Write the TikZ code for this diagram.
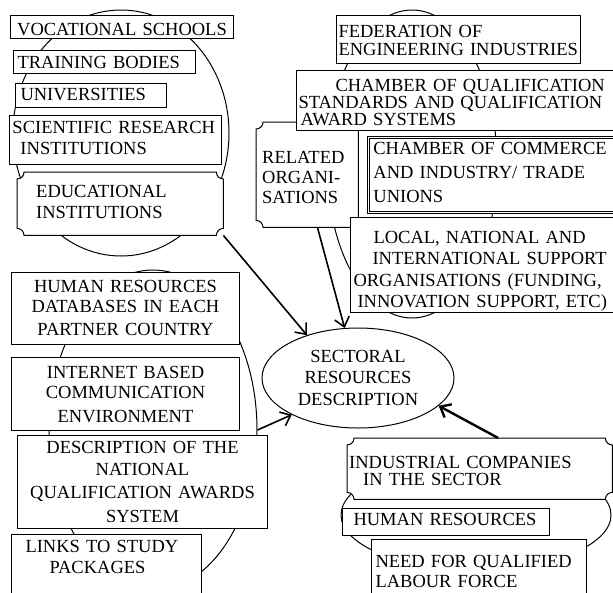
\documentclass[tikz,border=0pt]{standalone}
\usepackage{fontspec}
\setmainfont{Liberation Serif}
\usetikzlibrary{calc,arrows.meta,shapes.geometric}
\pgfdeclarelayer{back}
\pgfdeclarelayer{plaques}
\pgfsetlayers{back,plaques,main}
\hyphenpenalty=10000
\exhyphenpenalty=10000

% frame with concave (notched) corners around an existing node
\newcommand\plaqueframe[1]{%
  \begin{pgfonlayer}{plaques}
    \draw[frame, fill=white]
      ($(#1.north west)+(7,0)$) -- ($(#1.north east)+(-7,0)$)
      .. controls +(0,4) and +(-4,0) .. ($(#1.north east)+(0,7)$)
      -- ($(#1.south east)+(0,-7)$)
      .. controls +(-4,0) and +(0,-4) .. ($(#1.south east)+(-7,0)$)
      -- ($(#1.south west)+(7,0)$)
      .. controls +(0,-4) and +(4,0) .. ($(#1.south west)+(0,-7)$)
      -- ($(#1.north west)+(0,7)$)
      .. controls +(4,0) and +(0,4) .. ($(#1.north west)+(7,0)$)
      -- cycle;
  \end{pgfonlayer}}

\begin{document}
\begin{tikzpicture}[x=1pt, y=-1pt,
  frame/.style={draw, line width=1pt},
  labeltext/.style={anchor=north west, inner ysep=0pt, align=left,
    font=\fontsize{18.5}{21}\selectfont},
  textbox/.style={labeltext, frame, fill=white},
  plaquebox/.style={labeltext},
  doublebox/.style={labeltext, draw, fill=white, line width=0.8pt, double, double distance=1.8pt},
  outline/.style={draw, line width=1pt, ellipse, inner sep=0pt},
  arrow/.style={line width=1.6pt, -{Straight Barb[length=9pt,width=15pt]}},
  heavyarrow/.style={arrow, line width=2.4pt}
]
\useasboundingbox (0,0) rectangle (613,592);
\clip (0,0) rectangle (613,592);

% background and group outlines
\begin{pgfonlayer}{back}
  \fill[white] (0,0) rectangle (613,592);
  \node[outline, minimum width=216pt, minimum height=246pt] (tlgroup) at (121,133) {};
  \node[outline, minimum width=170pt, minimum height=308pt] (trgroup) at (412,164) {};
  \node[outline, minimum width=208pt, minimum height=320pt] (blgroup) at (153,430) {};
  \node[outline, minimum width=270pt, minimum height=110pt] (brgroup) at (476,515) {};
\end{pgfonlayer}

% educational institutions
\node[textbox, inner xsep=2pt, text width=219pt, align=center, text height=20pt, text depth=3pt] (voc) at (10,15) {VOCATIONAL~SCHOOLS};
\node[textbox, inner xsep=4pt, text width=174pt, text height=18pt, text depth=5pt] (train) at (13,50) {TRAINING~BODIES};
\node[textbox, inner xsep=5pt, text width=141pt, text height=17pt, text depth=7pt] (univ) at (15,83) {UNIVERSITIES};
\node[textbox, inner xsep=3pt, text width=206pt, text height=18pt, text depth=31pt] (sci) at (9,115) {SCIENTIFIC~RESEARCH\\\hspace*{8pt}INSTITUTIONS};
\node[plaquebox, inner xsep=19pt, text width=168pt, text height=25pt, text depth=38pt] (edu) at (17,172) {EDUCATIONAL\\INSTITUTIONS};
\plaqueframe{edu}

% related organisations
\node[textbox, inner xsep=2pt, text width=240pt, text height=22pt, text depth=26pt] (fed) at (336,15) {FEDERATION~OF\\[-3pt]ENGINEERING~INDUSTRIES};
\node[plaquebox, inner xsep=6pt, text width=90pt, text height=41pt, text depth=64pt] (rel) at (256,122) {RELATED\\[-1pt]ORGANI-\\[-1pt]SATIONS};
\plaqueframe{rel}
\node[textbox, inner xsep=2pt, text width=330pt, text height=21pt, text depth=39pt] (cq) at (296,70) {\hspace*{37pt}CHAMBER~OF~QUALIFICATION\\[-4pt]STANDARDS~AND~QUALIFICATION\\[-4pt]\hspace*{2pt}AWARD~SYSTEMS};
\node[doublebox, inner xsep=5pt, text width=250pt, text height=17pt, text depth=58pt] (com) at (368,137) {CHAMBER~OF~COMMERCE\\[3pt]AND~INDUSTRY/~TRADE\\[3pt]UNIONS};
\node[textbox, inner xsep=2pt, text width=280pt, text height=26pt, text depth=69pt] (loc) at (350,217) {\hspace*{21pt}LOCAL,~NATIONAL~AND\\\hspace*{20pt}INTERNATIONAL~SUPPORT\\[1pt]\hspace*{1pt}ORGANISATIONS~(FUNDING,\\\hspace*{5pt}INNOVATION~SUPPORT,~ETC)};

% information resources
\node[textbox, inner xsep=2pt, text width=224pt, align=center, text height=20pt, text depth=52pt] (hrdb) at (11,272) {HUMAN~RESOURCES\\[-1pt]DATABASES~IN~EACH\\[2pt]PARTNER~COUNTRY};
\node[textbox, inner xsep=2pt, text width=224pt, align=center, text height=21pt, text depth=52pt] (inet) at (11,357) {INTERNET~BASED\\[-1pt]COMMUNICATION\\[3pt]ENVIRONMENT};
\node[textbox, inner xsep=3pt, text width=244pt, align=center, text height=18pt, text depth=75pt] (desc) at (17,435) {DESCRIPTION~OF~THE\\[1pt]NATIONAL\\[2pt]QUALIFICATION~AWARDS\\[3pt]SYSTEM};
\node[textbox, inner xsep=2pt, text width=186pt, text height=18pt, text depth=52pt] (links) at (11,534) {\hspace*{12pt}LINKS~TO~STUDY\\\hspace*{36pt}PACKAGES};

% companies
\node[plaquebox, inner xsep=2pt, text width=261pt, text height=30pt, text depth=31pt] (ind) at (347,438) {INDUSTRIAL~COMPANIES\\[-4pt]\hspace*{14pt}IN~THE~SECTOR};
\plaqueframe{ind}
\node[textbox, inner xsep=11pt, text width=185pt, text height=17pt, text depth=10pt] (hr) at (342,508) {HUMAN~RESOURCES};
\node[textbox, inner xsep=4pt, text width=207pt, text height=28pt, text depth=40pt] (need) at (371,539) {NEED~FOR~QUALIFIED\\[-1pt]LABOUR~FORCE};

% central description
\node[draw, line width=1pt, fill=white, ellipse, inner sep=0pt, minimum width=192pt, minimum height=100pt, align=center, font=\fontsize{18.5}{21}\selectfont] (sect) at (358,378) {SECTORAL\\RESOURCES\\[1pt]DESCRIPTION};

% connectors
\draw[arrow] (edu.south east) -- (sect.140);
\draw[arrow] (rel.-79) -- (sect.105);
\draw[arrow] (blgroup.east) -- (sect.209);
\draw[heavyarrow] (ind.59) -- (sect.341);
\end{tikzpicture}
\end{document}
